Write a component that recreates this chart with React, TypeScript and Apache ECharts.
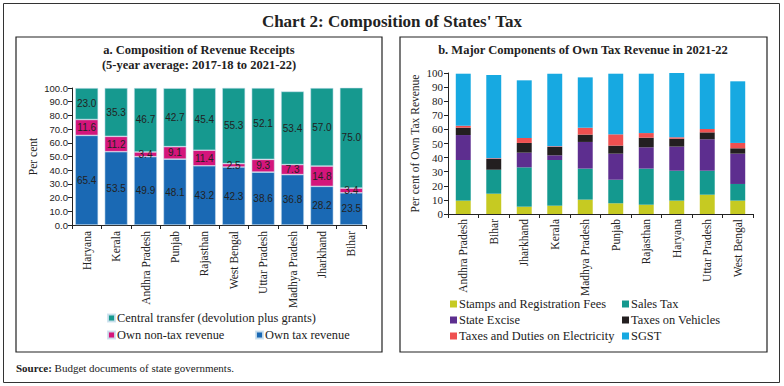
import React, { useEffect, useRef } from "react";
import * as echarts from "echarts";

// ---- Panel a data ----
const statesA = ["Haryana", "Kerala", "Andhra Pradesh", "Punjab", "Rajasthan", "West Bengal", "Uttar Pradesh", "Madhya Pradesh", "Jharkhand", "Bihar"];
const ownTax = [65.4, 53.5, 49.9, 48.1, 43.2, 42.3, 38.6, 36.8, 28.2, 23.5];
const ownNonTax = [11.6, 11.2, 3.4, 9.1, 11.4, 2.5, 9.3, 7.3, 14.8, 3.4];
const centralTransfer = [23.0, 35.3, 46.7, 42.7, 45.4, 55.3, 52.1, 53.4, 57.0, 75.0];

// ---- Panel b data ----
const statesB = ["Andhra Pradesh", "Bihar", "Jharkhand", "Kerala", "Madhya Pradesh", "Punjab", "Rajasthan", "Haryana", "Uttar Pradesh", "West Bengal"];
const stamps = [9.5, 14.4, 5.2, 5.9, 10.2, 7.6, 6.6, 9.5, 13.7, 9.5];
const salesTax = [28.8, 17.0, 27.9, 32.4, 22.0, 16.7, 25.6, 21.2, 17.0, 11.8];
const stateExcise = [17.7, 0, 10.4, 3.3, 18.9, 18.5, 15.1, 17.1, 22.3, 21.5];
const vehicles = [5.2, 7.6, 6.9, 5.9, 5.2, 5.7, 6.8, 5.6, 4.9, 3.8];
const electricity = [1.4, 0.5, 3.5, 0.5, 4.9, 8.0, 3.3, 1.0, 2.4, 3.8];
const sgst = [36.9, 59.1, 40.9, 51.5, 35.7, 43.0, 42.1, 45.6, 39.2, 43.7];

const ticksA = [0, 10, 20, 30, 40, 50, 60, 70, 80, 90, 100];

const SERIF = "'Liberation Serif', 'DejaVu Serif', serif";
const SANS = "'Liberation Sans', 'DejaVu Sans', sans-serif";
const TXT = "#222";

export default function App() {
  const ref = useRef<HTMLDivElement>(null);
  useEffect(() => {
    if (!ref.current) return;
    const chart = echarts.init(ref.current, undefined, { renderer: "svg" });

    const barA = (name: string, data: number[], color: string) => ({
      name,
      type: "bar",
      stack: "a",
      xAxisIndex: 0,
      yAxisIndex: 0,
      barWidth: "78%",
      data,
      itemStyle: { color, borderColor: "rgba(205,225,238,0.9)", borderWidth: 0.6 },
      label: {
        show: true,
        position: "inside",
        color: TXT,
        fontFamily: SANS,
        fontSize: 10,
        formatter: (p: any) => Number(p.value).toFixed(1),
      },
    });
    const barB = (name: string, data: number[], color: string) => ({
      name,
      type: "bar",
      stack: "b",
      xAxisIndex: 1,
      yAxisIndex: 1,
      barWidth: "49%",
      data,
      itemStyle: { color },
    });

    const legendItem = (name: string, left: number, top: number) => ({
      data: [name],
      left,
      top,
      orient: "horizontal",
      itemWidth: 7,
      itemHeight: 7,
      icon: "rect",
      padding: 0,
      textStyle: { fontFamily: SERIF, fontSize: 12.4, color: TXT, padding: [0, 0, 0, -3] },
      selectedMode: false,
    });

    const axisLine = { show: true, lineStyle: { color: "#222", width: 1 } };

    chart.setOption({
      animation: false,
      backgroundColor: "#fff",
      graphic: [
        { type: "rect", shape: { x: 3.5, y: 3.5, width: 776, height: 379 }, style: { fill: "none", stroke: "#333", lineWidth: 1 } },
        { type: "rect", shape: { x: 16, y: 37, width: 366, height: 315 }, style: { fill: "none", stroke: "#222", lineWidth: 1.2 } },
        { type: "rect", shape: { x: 400, y: 37, width: 367, height: 315 }, style: { fill: "none", stroke: "#222", lineWidth: 1.2 } },
        { type: "text", x: 392, y: 21, style: { text: "Chart 2: Composition of States' Tax", font: `bold 17px ${SERIF}`, fill: TXT, align: "center", verticalAlign: "middle" } },
        { type: "text", x: 199, y: 50, style: { text: "a. Composition of Revenue Receipts", font: `bold 12.5px ${SERIF}`, fill: TXT, align: "center", verticalAlign: "middle" } },
        { type: "text", x: 199, y: 65, style: { text: "(5-year average: 2017-18 to 2021-22)", font: `bold 12.5px ${SERIF}`, fill: TXT, align: "center", verticalAlign: "middle" } },
        { type: "text", x: 583, y: 50, style: { text: "b. Major Components of Own Tax Revenue in 2021-22", font: `bold 12.5px ${SERIF}`, fill: TXT, align: "center", verticalAlign: "middle" } },
        {
          type: "text",
          x: 16,
          y: 368,
          style: {
            text: "{b|Source:} Budget documents of state governments.",
            rich: {
              b: { font: `bold 11px ${SERIF}`, fill: TXT },
            },
            font: `11px ${SERIF}`,
            fill: TXT,
            verticalAlign: "middle",
          },
        },
      ],
      legend: [
        legendItem("Central transfer (devolution plus grants)", 107, 312),
        legendItem("Own non-tax revenue", 107, 329),
        legendItem("Own tax revenue", 255, 329),
        legendItem("Stamps and Registration Fees", 450, 298),
        legendItem("Sales Tax", 622, 298),
        legendItem("State Excise", 450, 314),
        legendItem("Taxes on Vehicles", 622, 314),
        legendItem("Taxes and Duties on Electricity", 450, 330),
        legendItem("SGST", 622, 330),
      ],
      grid: [
        { left: 72, right: 784 - 366, top: 88, bottom: 386 - 225, containLabel: false },
        { left: 448, right: 784 - 753, top: 73, bottom: 386 - 214, containLabel: false },
      ],
      xAxis: [
        {
          type: "category",
          gridIndex: 0,
          data: statesA,
          axisLine,
          axisTick: { show: true, length: 4, lineStyle: { color: "#222" } },
          axisLabel: { rotate: 90, fontFamily: SERIF, fontSize: 11.5, color: TXT, margin: 6, interval: 0 },
        },
        {
          type: "category",
          gridIndex: 1,
          data: statesB,
          axisLine,
          axisTick: { show: true, length: 4, lineStyle: { color: "#222" } },
          axisLabel: { rotate: 90, fontFamily: SERIF, fontSize: 11.5, color: TXT, margin: 5, interval: 0 },
        },
      ],
      yAxis: [
        {
          type: "value",
          gridIndex: 0,
          min: ticksA[0],
          max: ticksA[ticksA.length - 1],
          interval: 10,
          name: "Per cent",
          nameLocation: "middle",
          nameGap: 33,
          nameTextStyle: { fontFamily: SERIF, fontSize: 11.5, color: TXT },
          axisLine,
          axisTick: { show: true, length: 4, lineStyle: { color: "#222" } },
          splitLine: { show: false },
          axisLabel: { fontFamily: SANS, fontSize: 9.5, color: TXT, margin: 4, formatter: (v: number) => v.toFixed(1) },
        },
        {
          type: "value",
          gridIndex: 1,
          min: 0,
          max: 100,
          interval: 10,
          name: "Per cent of Own Tax Revenue",
          nameLocation: "middle",
          nameGap: 27,
          nameTextStyle: { fontFamily: SERIF, fontSize: 11.5, color: TXT },
          axisLine,
          axisTick: { show: true, length: 4, lineStyle: { color: "#222" } },
          splitLine: { show: false },
          axisLabel: { fontFamily: SERIF, fontSize: 11, color: TXT, margin: 5 },
        },
      ],
      series: [
        barA("Own tax revenue", ownTax, "#1a69b4"),
        barA("Own non-tax revenue", ownNonTax, "#d4157b"),
        barA("Central transfer (devolution plus grants)", centralTransfer, "#16998f"),
        barB("Stamps and Registration Fees", stamps, "#c6ca22"),
        barB("Sales Tax", salesTax, "#14998f"),
        barB("State Excise", stateExcise, "#5d2e8f"),
        barB("Taxes on Vehicles", vehicles, "#231f20"),
        barB("Taxes and Duties on Electricity", electricity, "#ef5050"),
        barB("SGST", sgst, "#17a9e1"),
      ],
    });
    return () => chart.dispose();
  }, []);
  return <div ref={ref} style={{ position: "absolute", left: 0, top: 0, width: 784, height: 386 }} />;
}
